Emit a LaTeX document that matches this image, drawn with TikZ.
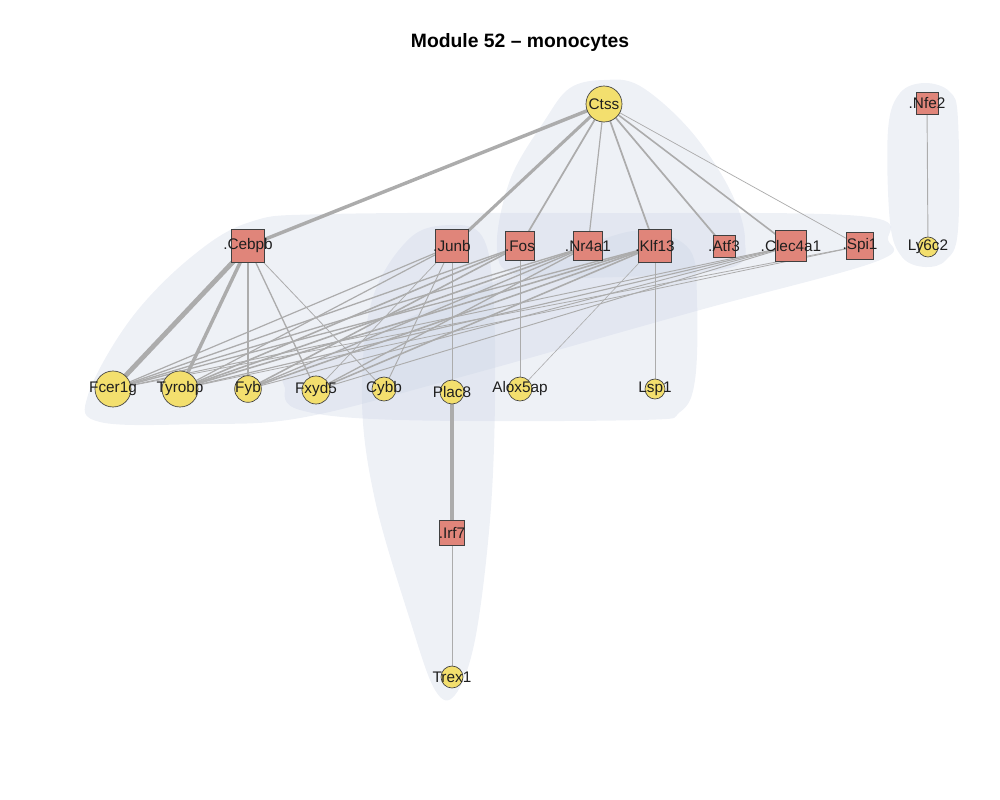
\documentclass[tikz,border=0pt]{standalone}
\usepackage{fontspec}
\setmainfont{Liberation Sans}
\pgfdeclarelayer{hulls}
\pgfdeclarelayer{edges}
\pgfsetlayers{hulls,edges,main}
\begin{document}
\begin{tikzpicture}[x=0.75pt,y=-0.75pt,
  lab/.style={font=\fontsize{11.5}{12}\selectfont,text=black!88,inner sep=0pt},
  tf/.style={draw=black!75,line width=0.5pt,fill=sq,rectangle,inner sep=0pt,minimum size=#1},
  gene/.style={draw=black!75,line width=0.5pt,fill=ci,circle,inner sep=0pt,minimum size=#1},
  hull/.style={fill=hb,fill opacity=0.34,draw=none},
  e/.style={draw=eg,line width=#1},
  e/.default=0.7pt]
\definecolor{sq}{RGB}{224,133,122}
\definecolor{ci}{RGB}{243,223,110}
\definecolor{hb}{RGB}{205,213,230}
\definecolor{eg}{RGB}{172,172,172}
\useasboundingbox (0,0) rectangle (1000,800);
\node[font=\bfseries\fontsize{14.5}{16}\selectfont] (title) at (520,42) {Module 52 – monocytes};
% hulls
\begin{pgfonlayer}{hulls}
\path[hull] plot[smooth cycle,tension=0.6] coordinates {(100,422) (88,395) (130,320) (190,258) (250,222) (330,214) (600,213) (860,216) (888,240) (875,262) (700,310) (450,380) (300,418) (200,424)};
\path[hull] plot[smooth cycle,tension=0.6] coordinates {(604,80) (640,86) (690,130) (730,190) (745,240) (730,268) (620,277) (520,275) (497,250) (510,180) (545,120) (570,88)};
\path[hull] plot[smooth cycle,tension=0.6] coordinates {(452,225) (482,236) (493,290) (495,400) (490,520) (475,640) (455,695) (435,690) (410,620) (375,500) (362,400) (372,300) (410,238)};
\path[hull] plot[smooth cycle,tension=0.6] coordinates {(650,232) (690,250) (697,300) (695,380) (680,412) (640,420) (400,420) (300,410) (285,388) (300,368) (450,300) (600,240)};
\path[hull] plot[smooth cycle,tension=0.6] coordinates {(925,83) (950,92) (958,120) (958,230) (946,260) (925,267) (902,257) (890,222) (888,130) (900,93)};
\end{pgfonlayer}
% nodes
\node[gene=27pt,label={[lab]center:Ctss}] (Ctss) at (604,104) {};
\node[tf=16.5pt,label={[lab]center:.Nfe2}] (Nfe2) at (927,103) {};
\node[tf=24.75pt,label={[lab]center:.Cebpb}] (Cebpb) at (248,246) {};
\node[tf=24.75pt,label={[lab]center:.Junb}] (Junb) at (452,246) {};
\node[tf=21.75pt,label={[lab]center:.Fos}] (Fos) at (520,246) {};
\node[tf=21.75pt,label={[lab]center:.Nr4a1}] (Nr4a1) at (588,246) {};
\node[tf=24.75pt,label={[lab]center:.Klf13}] (Klf13) at (655,246) {};
\node[tf=16.5pt,label={[lab]center:.Atf3}] (Atf3) at (724,246) {};
\node[tf=23.25pt,label={[lab]center:.Clec4a1}] (Clec4a1) at (791,246) {};
\node[tf=20.25pt,label={[lab]center:.Spi1}] (Spi1) at (860,246) {};
\node[gene=15pt,label={[lab]center:Ly6c2}] (Ly6c2) at (928,247) {};
\node[gene=27pt,label={[lab]center:Fcer1g}] (Fcer1g) at (113,389) {};
\node[gene=27pt,label={[lab]center:Tyrobp}] (Tyrobp) at (180,389) {};
\node[gene=20pt,label={[lab]center:Fyb}] (Fyb) at (248,389) {};
\node[gene=21pt,label={[lab]center:Fxyd5}] (Fxyd5) at (316,390) {};
\node[gene=18pt,label={[lab]center:Cybb}] (Cybb) at (384,389) {};
\node[gene=18pt,label={[lab]center:Plac8}] (Plac8) at (452,392) {};
\node[gene=18pt,label={[lab]center:Alox5ap}] (Alox5ap) at (520,389) {};
\node[gene=15pt,label={[lab]center:Lsp1}] (Lsp1) at (655,389) {};
\node[tf=18.75pt,label={[lab]center:.Irf7}] (Irf7) at (452,533) {};
\node[gene=16.5pt,label={[lab]center:Trex1}] (Trex1) at (452,677) {};
% edges
\begin{pgfonlayer}{edges}
\draw[e=2.6pt] (Ctss.center) -- (Cebpb.center);
\draw[e=2.3pt] (Ctss.center) -- (Junb.center);
\draw[e=1.3pt] (Ctss.center) -- (Fos.center);
\draw[e=0.9pt] (Ctss.center) -- (Nr4a1.center);
\draw[e=1.3pt] (Ctss.center) -- (Klf13.center);
\draw[e=1.3pt] (Ctss.center) -- (Atf3.center);
\draw[e=1.2pt] (Ctss.center) -- (Clec4a1.center);
\draw[e=0.55pt] (Ctss.center) -- (Spi1.center);
\draw[e=3.6pt] (Cebpb.center) -- (Fcer1g.center);
\draw[e=2.6pt] (Cebpb.center) -- (Tyrobp.center);
\draw[e=1pt] (Cebpb.center) -- (Fyb.center);
\draw[e=1pt] (Cebpb.center) -- (Fxyd5.center);
\draw[e=0.6pt] (Cebpb.center) -- (Cybb.center);
\draw[e=0.9pt] (Junb.center) -- (Fcer1g.center);
\draw[e=0.9pt] (Junb.center) -- (Tyrobp.center);
\draw[e=0.55pt] (Junb.center) -- (Fxyd5.center);
\draw[e=0.7pt] (Junb.center) -- (Cybb.center);
\draw[e=0.7pt] (Junb.center) -- (Plac8.center);
\draw[e=1pt] (Fos.center) -- (Fcer1g.center);
\draw[e=1.2pt] (Fos.center) -- (Tyrobp.center);
\draw[e=1.2pt] (Fos.center) -- (Fyb.center);
\draw[e=0.7pt] (Fos.center) -- (Alox5ap.center);
\draw[e=1pt] (Nr4a1.center) -- (Fcer1g.center);
\draw[e=1.2pt] (Nr4a1.center) -- (Tyrobp.center);
\draw[e=1pt] (Nr4a1.center) -- (Fyb.center);
\draw[e=1pt] (Nr4a1.center) -- (Fxyd5.center);
\draw[e=1pt] (Klf13.center) -- (Fcer1g.center);
\draw[e=1.2pt] (Klf13.center) -- (Tyrobp.center);
\draw[e=1.2pt] (Klf13.center) -- (Fyb.center);
\draw[e=1.2pt] (Klf13.center) -- (Fxyd5.center);
\draw[e=0.45pt] (Klf13.center) -- (Alox5ap.center);
\draw[e=0.7pt] (Klf13.center) -- (Lsp1.center);
\draw[e=0.7pt] (Clec4a1.center) -- (Fcer1g.center);
\draw[e=0.85pt] (Clec4a1.center) -- (Tyrobp.center);
\draw[e=0.7pt] (Clec4a1.center) -- (Fyb.center);
\draw[e=0.7pt] (Clec4a1.center) -- (Fxyd5.center);
\draw[e=0.6pt] (Spi1.center) -- (Fcer1g.center);
\draw[e=0.6pt] (Spi1.center) -- (Tyrobp.center);
\draw[e=0.7pt] (Nfe2.center) -- (Ly6c2.center);
\draw[e=2.4pt] (Plac8.center) -- (Irf7.center);
\draw[e=0.7pt] (Irf7.center) -- (Trex1.center);
\end{pgfonlayer}
\end{tikzpicture}
\end{document}
